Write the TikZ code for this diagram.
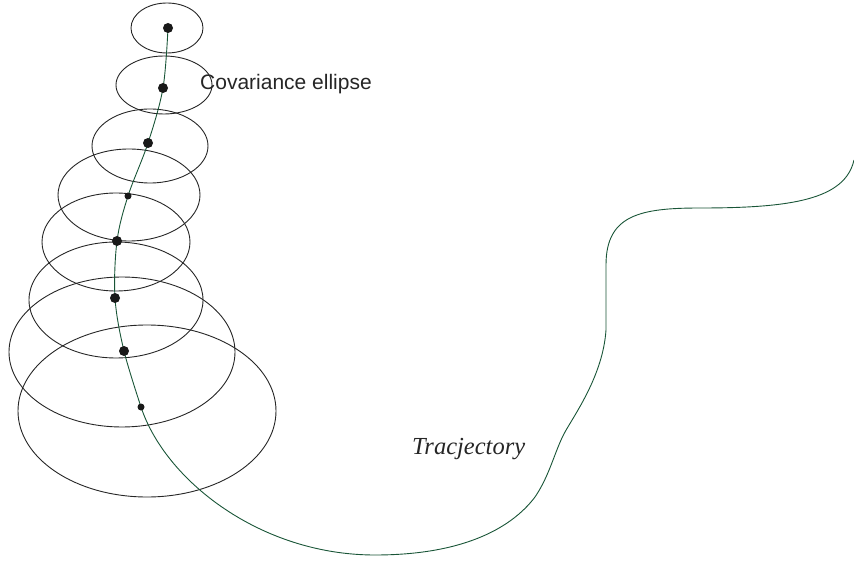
\documentclass[tikz,border=0pt]{standalone}
\usepackage{fontspec}
\setmainfont{Liberation Serif}
\setsansfont{Liberation Sans}
\begin{document}
\begin{tikzpicture}[x=1pt,y=-1pt,
  cov/.style={draw=black!85, line width=0.9pt},
  track/.style={draw={rgb,255:red,25;green,85;blue,55}, line width=0.9pt},
  bigdot/.style={circle, fill=black!90, inner sep=0pt, minimum size=10pt},
  smalldot/.style={circle, fill=black!90, inner sep=0pt, minimum size=7pt}]
\useasboundingbox (0,0) rectangle (854,561);

% covariance ellipses, growing along the track
\draw[cov] (167,28) ellipse [x radius=36, y radius=25];
\draw[cov] (164,85) ellipse [x radius=48, y radius=29];
\draw[cov] (150,146) ellipse [x radius=58, y radius=37];
\draw[cov] (129,195) ellipse [x radius=71, y radius=46];
\draw[cov] (116,242) ellipse [x radius=74, y radius=49];
\draw[cov] (116,300) ellipse [x radius=87, y radius=58];
\draw[cov] (122,352) ellipse [x radius=113, y radius=75];
\draw[cov] (147,411) ellipse [x radius=129, y radius=86];

% trajectory: smooth through the estimates, then free-hand on to the right
\draw[track] plot[smooth, tension=0.55] coordinates {
  (168,28) (163,88) (148,143) (128,196) (117,241) (115,298) (124,351)
  (141,407)}
  .. controls (165,480) and (260,555) .. (375,555)
  .. controls (460,555) and (510,530) .. (535,497)
  .. controls (550,475) and (555,450) .. (565,432)
  .. controls (575,414) and (603,375) .. (606,330)
  -- (606,265)
  .. controls (606,215) and (640,208) .. (700,208)
  .. controls (790,208) and (845,200) .. (854,160);

% estimated positions
\node[bigdot]   (p1) at (168,28) {};
\node[bigdot]   (p2) at (163,88) {};
\node[bigdot]   (p3) at (148,143) {};
\node[smalldot] (p4) at (128,196) {};
\node[bigdot]   (p5) at (117,241) {};
\node[bigdot]   (p6) at (115,298) {};
\node[bigdot]   (p7) at (124,351) {};
\node[smalldot] (p8) at (141,407) {};

% labels
\node[anchor=base west, inner sep=0pt, font=\sffamily\fontsize{21}{24}\selectfont, text=black!85]
  (lblcov) at (200,90) {Covariance ellipse};
\node[anchor=base west, inner sep=0pt, font=\itshape\fontsize{24.5}{28}\selectfont, text=black!85]
  (lbltr) at (412,454) {Tracjectory};
\end{tikzpicture}
\end{document}
